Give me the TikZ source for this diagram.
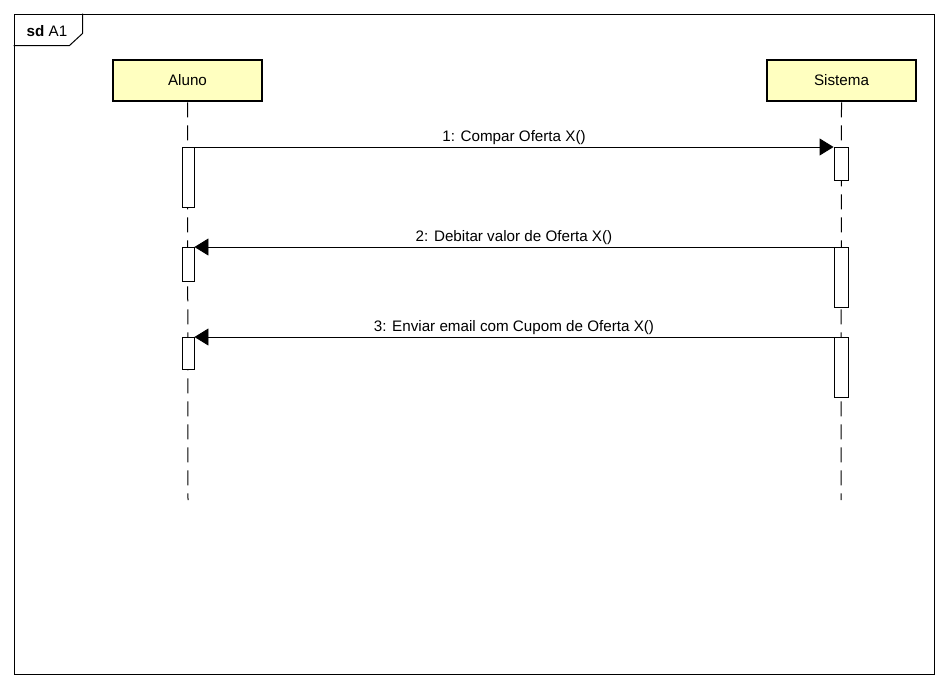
\documentclass[tikz,border=0pt]{standalone}
\usepackage{fontspec}
\setmainfont{Liberation Sans}
\usetikzlibrary{arrows.meta}
\begin{document}
\begin{tikzpicture}[x=1pt,y=-1pt,
  font=\fontsize{15.2}{17}\selectfont,
  participant/.style={draw, line width=2.6pt, fill=partfill, minimum width=149pt, minimum height=41pt, inner sep=0pt},
  lifeline/.style={line width=1pt, dash pattern=on 15pt off 8pt},
  activation/.style={draw, line width=0.9pt, fill=white, inner sep=0pt, anchor=north},
  msg/.style={line width=0.9pt, -{Triangle[length=14pt,width=17pt]}},
  msglabel/.style={anchor=south, inner sep=2pt}]
\definecolor{partfill}{HTML}{FFFFC0}
\useasboundingbox (0,0) rectangle (948,686);
% frame
\node[draw, line width=1pt, minimum width=920pt, minimum height=660pt, inner sep=0pt, anchor=north west] (frame) at (13.5,13.5) {};
\draw[line width=1pt] (frame.north west) ++(69,0) coordinate (tabtop) -- ++(0,20) -- ++(-13,12) -- ++(-56,0);
\node (title) at (47,31) {\textbf{sd} A1};
% participants
\node[participant] (aluno) at (187.5,80.5) {Aluno};
\node[participant] (sistema) at (841.5,80.5) {Sistema};
\coordinate (alunoend) at (188,500);
\coordinate (sistemaend) at (841,500);
\draw[lifeline] (aluno.south) -- (alunoend);
\draw[lifeline] (sistema.south) -- (sistemaend);
% activation bars
\node[activation, minimum width=12pt, minimum height=60pt] (a1) at (188,147) {};
\node[activation, minimum width=14pt, minimum height=33pt] (s1) at (841,147) {};
\node[activation, minimum width=12pt, minimum height=34pt] (a2) at (188,247) {};
\node[activation, minimum width=14pt, minimum height=60pt] (s2) at (841,247) {};
\node[activation, minimum width=12pt, minimum height=32pt] (a3) at (188,337) {};
\node[activation, minimum width=14pt, minimum height=60pt] (s3) at (841,337) {};
% messages
\draw[msg] (a1.north east) -- node[msglabel] {1: Compar Oferta X()} (s1.north west);
\draw[msg] (s2.north west) -- node[msglabel] {2: Debitar valor de Oferta X()} (a2.north east);
\draw[msg] (s3.north west) -- node[msglabel] {3: Enviar email com Cupom de Oferta X()} (a3.north east);
\end{tikzpicture}
\end{document}
